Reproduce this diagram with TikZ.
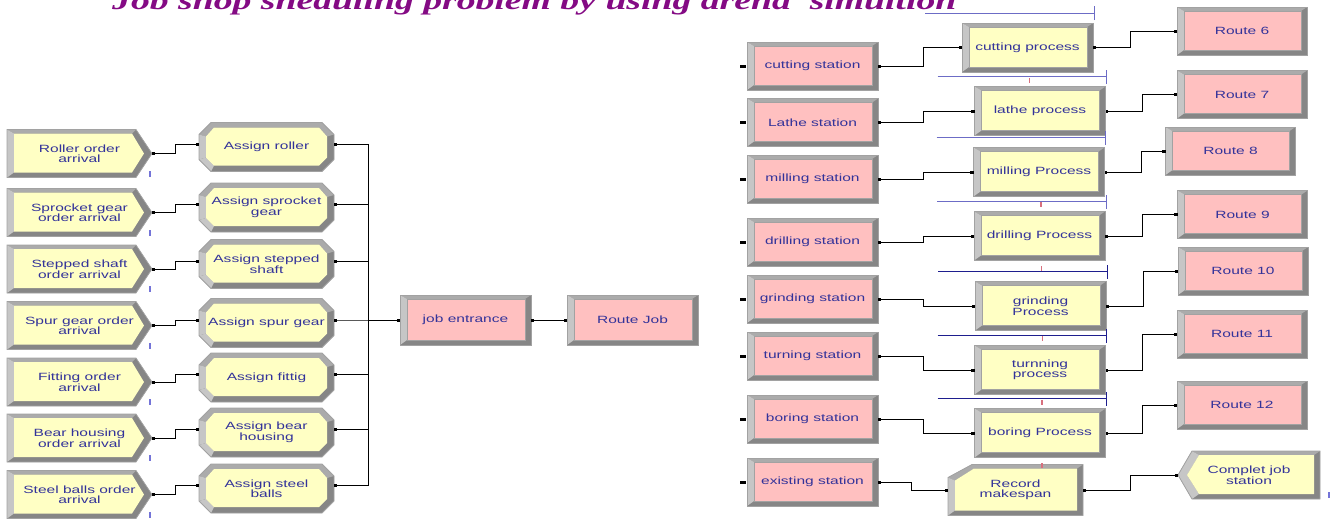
\documentclass[tikz,border=0pt]{standalone}
\usepackage{fontspec}
\newfontfamily\modfont[FakeStretch=1.48]{Liberation Sans}
\newfontfamily\titlefont[FakeStretch=1.45]{Liberation Serif}
\usetikzlibrary{arrows.meta,positioning}
\pgfdeclarelayer{faces}
\pgfsetlayers{faces,main}

\definecolor{facepink}{HTML}{FFC0C0}
\definecolor{faceyell}{HTML}{FFFFC4}
\definecolor{bevlight}{HTML}{C6C6C6}
\definecolor{bevmid}{HTML}{ABABAB}
\definecolor{bevdark}{HTML}{868686}
\definecolor{bevedge}{HTML}{A2A2A2}
\definecolor{modtext}{HTML}{33339A}
\definecolor{ttl}{HTML}{840A84}
\definecolor{qlight}{HTML}{6C6CC6}
\definecolor{qdark}{HTML}{1E1E8E}
\definecolor{qmark}{HTML}{D8707E}
\definecolor{pmark}{HTML}{7474D8}

% module faces: node, width, height, face colour
\newcommand\facerect[4]{%
  \begin{scope}[shift={(#1.south west)},x=1pt,y=1pt]
    \fill[bevdark] (0,0) rectangle (#2,#3);
    \fill[bevmid] (0,#3) -- (#2,#3) -- (#2-6,#3-4) -- (7,#3-4) -- cycle;
    \fill[bevlight] (0,0) -- (0,#3) -- (7,#3-4) -- (7,5) -- cycle;
    \fill[#4] (7,5) rectangle (#2-6,#3-4);
    \draw[bevedge,line width=.5pt] (7,5) rectangle (#2-6,#3-4);
    \draw[bevedge,line width=.8pt] (0,0) rectangle (#2,#3);
  \end{scope}}
% create: pointed to the right
\newcommand\facecreate[4]{%
  \begin{scope}[shift={(#1.south west)},x=1pt,y=1pt]
    \fill[bevdark] (0,0) -- (0,#3) -- (#2-16,#3) -- (#2,#3/2) -- (#2-16,0) -- cycle;
    \fill[bevmid] (0,#3) -- (#2-16,#3) -- (#2-20,#3-4) -- (7,#3-4) -- cycle;
    \fill[bevlight] (0,0) -- (0,#3) -- (7,#3-4) -- (7,5) -- cycle;
    \fill[#4] (7,5) -- (7,#3-4) -- (#2-20,#3-4) -- (#2-8,#3/2) -- (#2-20,5) -- cycle;
    \draw[bevedge,line width=.8pt] (0,0) -- (0,#3) -- (#2-16,#3) -- (#2,#3/2) -- (#2-16,0) -- cycle;
  \end{scope}}
% assign: cut corners
\newcommand\faceassign[4]{%
  \begin{scope}[shift={(#1.south west)},x=1pt,y=1pt]
    \fill[bevdark] (12,0) -- (#2-12,0) -- (#2,12) -- (#2,#3-12) -- (#2-12,#3) -- (12,#3) -- (0,#3-12) -- (0,12) -- cycle;
    \fill[bevmid] (0,#3-12) -- (12,#3) -- (#2-12,#3) -- (#2,#3-12) -- (#2-7,#3-14) -- (#2-15,#3-5) -- (15,#3-5) -- (7,#3-14) -- cycle;
    \fill[bevlight] (0,12) -- (0,#3-12) -- (7,#3-14) -- (7,14) -- cycle;
    \fill[bevlight] (0,12) -- (12,0) -- (15,6) -- (7,14) -- cycle;
    \fill[#4] (15,6) -- (#2-15,6) -- (#2-7,14) -- (#2-7,#3-14) -- (#2-15,#3-5) -- (15,#3-5) -- (7,#3-14) -- (7,14) -- cycle;
    \draw[bevedge,line width=.8pt] (12,0) -- (#2-12,0) -- (#2,12) -- (#2,#3-12) -- (#2-12,#3) -- (12,#3) -- (0,#3-12) -- (0,12) -- cycle;
  \end{scope}}
% record: one clipped corner
\newcommand\facerecord[4]{%
  \begin{scope}[shift={(#1.south west)},x=1pt,y=1pt]
    \fill[bevdark] (0,0) -- (0,#3-13) -- (24,#3) -- (#2,#3) -- (#2,0) -- cycle;
    \fill[bevmid] (0,#3-13) -- (24,#3) -- (#2,#3) -- (#2-6,#3-4) -- (26,#3-4) -- (7,#3-16) -- cycle;
    \fill[bevlight] (0,0) -- (0,#3-13) -- (7,#3-16) -- (7,5) -- cycle;
    \fill[#4] (7,5) -- (7,#3-16) -- (26,#3-4) -- (#2-6,#3-4) -- (#2-6,5) -- cycle;
    \draw[bevedge,line width=.8pt] (0,0) -- (0,#3-13) -- (24,#3) -- (#2,#3) -- (#2,0) -- cycle;
  \end{scope}}
% dispose: pointed to the left
\newcommand\facedispose[4]{%
  \begin{scope}[shift={(#1.south west)},x=1pt,y=1pt]
    \fill[bevdark] (14,0) -- (0,#3/2) -- (14,#3) -- (#2,#3) -- (#2,0) -- cycle;
    \fill[bevmid] (14,#3) -- (#2,#3) -- (#2-6,#3-4) -- (21,#3-4) -- cycle;
    \fill[bevlight] (14,0) -- (0,#3/2) -- (14,#3) -- (21,#3-4) -- (9,#3/2) -- (21,5) -- cycle;
    \fill[#4] (21,5) -- (9,#3/2) -- (21,#3-4) -- (#2-6,#3-4) -- (#2-6,5) -- cycle;
    \draw[bevedge,line width=.8pt] (14,0) -- (0,#3/2) -- (14,#3) -- (#2,#3) -- (#2,0) -- cycle;
  \end{scope}}

\tikzset{
  mod/.style={inner sep=0pt, outer sep=0pt, align=center, text=modtext,
    font=\modfont\fontsize{10.5}{10.5}\selectfont},
  stn/.style={mod, minimum width=131pt, minimum height=48pt},
  prc/.style={mod, minimum width=131pt, minimum height=49pt},
  crt/.style={mod, minimum width=145pt, minimum height=48pt},
  asg/.style={mod, minimum width=135pt, minimum height=49pt},
  rec/.style={mod, minimum width=135pt, minimum height=51pt},
  dsp/.style={mod, minimum width=142pt, minimum height=48pt},
  conn/.style={draw=black, line width=.6pt, {Square[length=2.5pt,width=2.5pt]}-{Square[length=3.5pt,width=3pt]}},
  queue/.style={line width=.9pt},
}

\begin{document}
\begin{tikzpicture}[x=1pt,y=-1pt]
\useasboundingbox (0,0) rectangle (1338,523);

\node[anchor=base west, inner sep=0pt, text=ttl,
  font=\titlefont\fontsize{26}{26}\selectfont\bfseries\itshape] (title) at (112,9)
  {Job shop sheduling problem by using arena\ \ simultion};

% arrivals
\node[crt] (c1) at (79.5,153.5) {Roller order\\arrival};
\node[crt,below=11pt of c1] (c2) {Sprocket gear\\order arrival};
\node[crt,below=8.5pt of c2] (c3) {Stepped shaft\\order arrival};
\node[crt,below=8.5pt of c3] (c4) {Spur gear order\\arrival};
\node[crt,below=8.5pt of c4] (c5) {Fitting order\\arrival};
\node[crt,below=8pt of c5] (c6) {Bear housing\\order arrival};
\node[crt,below=8.5pt of c6] (c7) {Steel balls order\\arrival};

% assigns
\node[asg] (a1) at (266.5,147) {Assign roller};
\node[asg,below=11.5pt of a1] (a2) {Assign sprocket\\gear};
\node[asg,below=7.5pt of a2] (a3) {Assign stepped\\shaft};
\node[asg,below=10pt of a3] (a4) {Assign spur gear};
\node[asg,below=5.5pt of a4] (a5) {Assign fittig};
\node[asg,below=6pt of a5] (a6) {Assign bear\\housing};
\node[asg,below=7pt of a6] (a7) {Assign steel\\balls};

\node[stn,minimum height=50pt] (je) at (465.5,320) {job entrance};
\node[stn,minimum height=50pt,right=36pt of je] (rj) {Route Job};

% stations
\node[stn] (s1) at (812.5,66) {cutting station};
\node[stn] (s2) at (812.5,122.5) {Lathe station};
\node[stn] (s3) at (812.5,179) {milling station};
\node[stn] (s4) at (812.5,242) {drilling station};
\node[stn] (s5) at (812.5,299) {grinding station};
\node[stn] (s6) at (812.5,356) {turning station};
\node[stn] (s7) at (812.5,419) {boring station};
\node[stn] (s8) at (812.5,482) {existing station};

% processes
\node[prc] (p1) at (1027.5,47.5) {cutting process};
\node[prc] (p2) at (1040,111) {lathe process};
\node[prc] (p3) at (1039,172) {milling Process};
\node[prc] (p4) at (1039.5,236) {drilling Process};
\node[prc] (p5) at (1040.5,306) {grinding\\Process};
\node[prc] (p6) at (1040,370) {turnning\\process};
\node[prc] (p7) at (1040,433) {boring Process};
\node[rec] (rec) at (1015.5,490) {Record\\makespan};

% routes
\node[stn,minimum width=130pt] (r6) at (1242,31) {Route 6};
\node[stn,minimum width=130pt] (r7) at (1242,94.5) {Route 7};
\node[stn,minimum width=130pt] (r8) at (1230.5,151) {Route 8};
\node[stn,minimum width=130pt] (r9) at (1242.5,214.5) {Route 9};
\node[stn,minimum width=130pt] (r10) at (1243,271) {Route 10};
\node[stn,minimum width=130pt] (r11) at (1242,334) {Route 11};
\node[stn,minimum width=130pt] (r12) at (1242,405) {Route 12};
\node[dsp] (dsp) at (1249,475) {Complet job\\station};

% module faces behind the labels
\begin{pgfonlayer}{faces}
  \fill[white] (0,0) rectangle (1338,523);
  \foreach \n in {c1,c2,c3,c4,c5,c6,c7} \facecreate{\n}{145}{48}{faceyell};
  \foreach \n in {a1,a2,a3,a4,a5,a6,a7} \faceassign{\n}{135}{49}{faceyell};
  \foreach \n in {je,rj} \facerect{\n}{131}{50}{facepink};
  \foreach \n in {s1,s2,s3,s4,s5,s6,s7,s8} \facerect{\n}{131}{48}{facepink};
  \foreach \n in {p1,p2,p3,p4,p5,p6,p7} \facerect{\n}{131}{49}{faceyell};
  \foreach \n in {r6,r7,r8,r9,r10,r11,r12} \facerect{\n}{130}{48}{facepink};
  \facerecord{rec}{135}{51}{faceyell};
  \facedispose{dsp}{142}{48}{faceyell};
\end{pgfonlayer}

% connections
\foreach \i in {1,...,7} \draw[conn] (c\i.east) -- ++(23,0) |- ([yshift=3pt]a\i.west);
\foreach \i in {1,...,7} \draw[conn] ([yshift=3pt]a\i.east) -- ++(34,0) |- (je.west);
\draw[conn] (je.east) -- (rj.west);
\foreach \s/\p in {s1/p1,s2/p2,s3/p3,s4/p4,s5/p5,s6/p6,s7/p7}
  \draw[conn] (\s.east) -- ++(45,0) |- (\p.west);
\draw[conn] (s8.east) -- ++(33,0) |- (rec.west);
\foreach \p/\r in {p1/r6,p2/r7,p3/r8,p4/r9,p5/r10,p6/r11,p7/r12}
  \draw[conn] (\p.east) -- ++(37,0) |- (\r.west);
\draw[conn] (rec.east) -- ++(47,0) |- (dsp.west);

% station entry points
\foreach \s in {s1,s2,s3,s4,s5,s6,s7,s8}
  \fill ([xshift=-7pt,yshift=-1.5pt]\s.west) rectangle ([xshift=-1.5pt,yshift=1.5pt]\s.west);

% resource queues over the processes
\foreach \p/\c in {p1/qlight,p2/qlight,p3/qlight,p4/qlight,p5/qdark,p6/qdark,p7/qdark} {
  \draw[queue,\c] ([shift={(-37pt,10pt)}]\p.north west) -- ([shift={(1pt,10pt)}]\p.north east);
  \draw[queue,\c] ([shift={(1pt,3pt)}]\p.north east) -- ([shift={(1pt,17pt)}]\p.north east);
}
\foreach \p in {p1,p3,p4,p5,p6,p7}
  \fill[qmark] ([shift={(1pt,-5.5pt)}]\p.south) rectangle ([shift={(2.5pt,-10.5pt)}]\p.south);

% little markers under arrivals and dispose
\foreach \c in {c1,c2,c3,c4,c5,c6,c7}
  \fill[pmark] ([shift={(-3pt,-17pt)}]\c.east) rectangle ([shift={(-1.5pt,-23pt)}]\c.east);
\fill[pmark] ([shift={(8pt,-17pt)}]dsp.east) rectangle ([shift={(9.5pt,-23pt)}]dsp.east);
\end{tikzpicture}
\end{document}
